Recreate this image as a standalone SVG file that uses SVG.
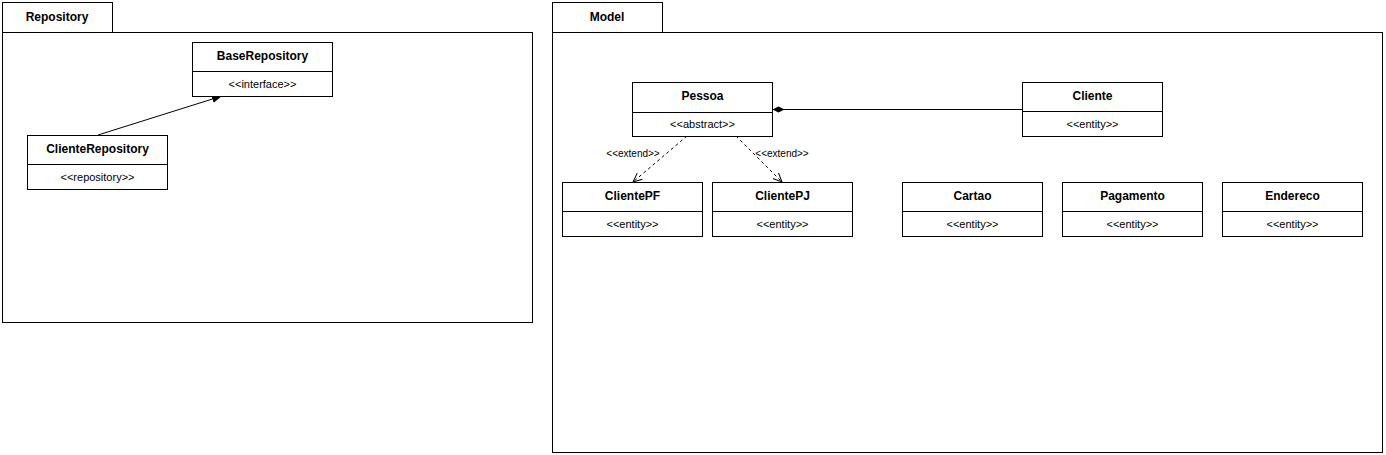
<svg xmlns="http://www.w3.org/2000/svg" width="1386" height="455" viewBox="0 0 1386 455">
<defs>
<style>
.box{fill:#fff;stroke:#000;stroke-width:1}
.ln{fill:none;stroke:#000;stroke-width:1}
.name{font-family:"Liberation Sans",Arial,sans-serif;font-size:12px;font-weight:bold;text-anchor:middle;fill:#000}
.st{font-family:"Liberation Sans",Arial,sans-serif;font-size:11px;text-anchor:middle;fill:#000}
.lbl{font-family:"Liberation Sans",Arial,sans-serif;font-size:10px;text-anchor:middle;fill:#000}
</style>
<marker id="block" viewBox="0 0 10 10" refX="10" refY="5" markerWidth="10" markerHeight="10" markerUnits="userSpaceOnUse" orient="auto">
<path d="M0,1 L10,5 L0,9 Z" fill="#000"/>
</marker>
<marker id="open" viewBox="0 0 10 10" refX="9" refY="5" markerWidth="10" markerHeight="10" markerUnits="userSpaceOnUse" orient="auto">
<path d="M0,1 L9,5 L0,9" fill="none" stroke="#000" stroke-width="1"/>
</marker>
<marker id="diamond" viewBox="0 0 12 8" refX="0" refY="4" markerWidth="12" markerHeight="8" markerUnits="userSpaceOnUse" orient="auto">
<path d="M0,4 L6,1 L12,4 L6,7 Z" fill="#000"/>
</marker>
</defs>
<rect width="1386" height="455" fill="#fff"/>

<g id="pkg-repository">
<rect class="box" x="2.5" y="2.5" width="110" height="30"/>
<rect class="box" x="2.5" y="32.5" width="530" height="290"/>
<text class="name" x="57" y="21">Repository</text>
</g>
<g id="pkg-model">
<rect class="box" x="552.5" y="2.5" width="110" height="30"/>
<rect class="box" x="552.5" y="32.5" width="830" height="420"/>
<text class="name" x="607" y="21">Model</text>
</g>

<g id="connectors">
<line class="ln" x1="98" y1="135" x2="222" y2="96" marker-end="url(#block)"/>
<line class="ln" x1="772.5" y1="109.5" x2="1022" y2="109.5" marker-start="url(#diamond)"/>
<line class="ln" x1="687" y1="136" x2="633" y2="182" stroke-dasharray="3,3" marker-end="url(#open)"/>
<line class="ln" x1="736" y1="136" x2="782" y2="182" stroke-dasharray="3,3" marker-end="url(#open)"/>
<text class="lbl" x="633" y="157">&lt;&lt;extend&gt;&gt;</text>
<text class="lbl" x="782" y="157">&lt;&lt;extend&gt;&gt;</text>
</g>

<g id="BaseRepository">
<rect class="box" x="192.5" y="42.5" width="140" height="54"/>
<line class="ln" x1="192.5" y1="71.5" x2="332.5" y2="71.5"/>
<text class="name" x="262.5" y="60">BaseRepository</text>
<text class="st" x="262.5" y="88">&lt;&lt;interface&gt;&gt;</text>
</g>
<g id="ClienteRepository">
<rect class="box" x="27.5" y="135.5" width="140" height="54"/>
<line class="ln" x1="27.5" y1="164.5" x2="167.5" y2="164.5"/>
<text class="name" x="97.5" y="153">ClienteRepository</text>
<text class="st" x="97.5" y="181">&lt;&lt;repository&gt;&gt;</text>
</g>
<g id="Pessoa">
<rect class="box" x="632.5" y="82.5" width="140" height="54"/>
<line class="ln" x1="632.5" y1="112.5" x2="772.5" y2="112.5"/>
<text class="name" x="702.5" y="100">Pessoa</text>
<text class="st" x="702.5" y="128">&lt;&lt;abstract&gt;&gt;</text>
</g>
<g id="Cliente">
<rect class="box" x="1022.5" y="82.5" width="140" height="54"/>
<line class="ln" x1="1022.5" y1="111.5" x2="1162.5" y2="111.5"/>
<text class="name" x="1092.5" y="100">Cliente</text>
<text class="st" x="1092.5" y="128">&lt;&lt;entity&gt;&gt;</text>
</g>
<g id="ClientePF">
<rect class="box" x="562.5" y="182.5" width="140" height="54"/>
<line class="ln" x1="562.5" y1="211.5" x2="702.5" y2="211.5"/>
<text class="name" x="632.5" y="200">ClientePF</text>
<text class="st" x="632.5" y="228">&lt;&lt;entity&gt;&gt;</text>
</g>
<g id="ClientePJ">
<rect class="box" x="712.5" y="182.5" width="140" height="54"/>
<line class="ln" x1="712.5" y1="211.5" x2="852.5" y2="211.5"/>
<text class="name" x="782.5" y="200">ClientePJ</text>
<text class="st" x="782.5" y="228">&lt;&lt;entity&gt;&gt;</text>
</g>
<g id="Cartao">
<rect class="box" x="902.5" y="182.5" width="140" height="54"/>
<line class="ln" x1="902.5" y1="211.5" x2="1042.5" y2="211.5"/>
<text class="name" x="972.5" y="200">Cartao</text>
<text class="st" x="972.5" y="228">&lt;&lt;entity&gt;&gt;</text>
</g>
<g id="Pagamento">
<rect class="box" x="1062.5" y="182.5" width="140" height="54"/>
<line class="ln" x1="1062.5" y1="211.5" x2="1202.5" y2="211.5"/>
<text class="name" x="1132.5" y="200">Pagamento</text>
<text class="st" x="1132.5" y="228">&lt;&lt;entity&gt;&gt;</text>
</g>
<g id="Endereco">
<rect class="box" x="1222.5" y="182.5" width="140" height="54"/>
<line class="ln" x1="1222.5" y1="211.5" x2="1362.5" y2="211.5"/>
<text class="name" x="1292.5" y="200">Endereco</text>
<text class="st" x="1292.5" y="228">&lt;&lt;entity&gt;&gt;</text>
</g>
</svg>
